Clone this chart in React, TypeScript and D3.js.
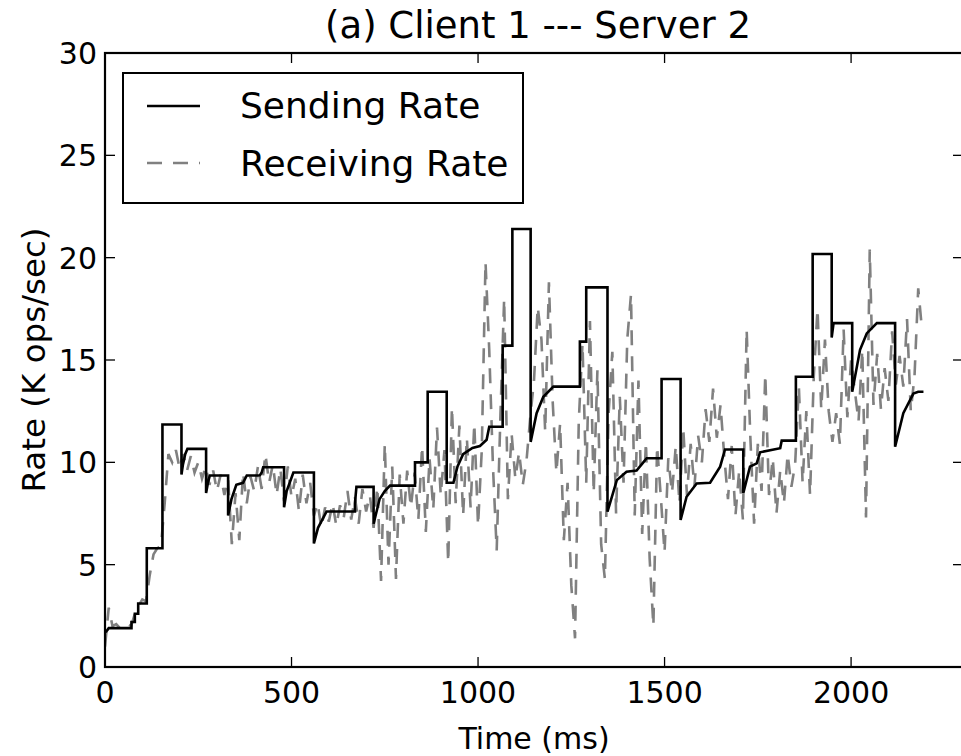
import React from "react";
import * as d3 from "d3";

// Sending rate (step-like with recovery curves): time (ms) and rate (K ops/sec)
const SEND_T = [2, 10, 71, 71, 80, 80, 89, 89, 112, 112, 154, 154, 205, 205, 209, 215, 221, 271, 271, 276, 281, 330, 330, 339, 352, 370, 380, 415, 420, 424, 480, 480, 487, 505, 560, 560, 571, 594, 670, 670, 674, 720, 720, 736, 750, 764, 831, 831, 865, 865, 916, 916, 934, 945, 960, 985, 1005, 1023, 1030, 1066, 1066, 1092, 1092, 1141, 1141, 1157, 1175, 1202, 1273, 1273, 1290, 1290, 1347, 1347, 1372, 1398, 1425, 1443, 1452, 1492, 1492, 1543, 1543, 1559, 1586, 1622, 1649, 1662, 1711, 1711, 1729, 1747, 1756, 1810, 1814, 1852, 1852, 1897, 1897, 1948, 1948, 1953, 2003, 2003, 2024, 2042, 2069, 2118, 2118, 2140, 2167, 2180, 2194];
const SEND_V = [1.7, 1.9, 1.9, 2.2, 2.2, 2.6, 2.6, 3.1, 3.1, 5.8, 5.8, 11.85, 11.85, 9.4, 9.9, 10.4, 10.66, 10.66, 8.5, 9.0, 9.36, 9.36, 7.4, 8.2, 8.9, 9.0, 9.36, 9.36, 9.5, 9.76, 9.76, 7.8, 8.6, 9.5, 9.5, 6.04, 6.8, 7.6, 7.6, 8.0, 8.8, 8.8, 7.0, 8.2, 8.6, 8.86, 8.86, 10.0, 10.0, 13.45, 13.45, 9.0, 9.0, 9.8, 10.4, 10.7, 10.8, 11.1, 11.74, 11.74, 15.7, 15.7, 21.4, 21.4, 11.0, 12.4, 13.2, 13.7, 13.7, 15.9, 15.9, 18.55, 18.55, 7.59, 9.13, 9.54, 9.6, 10.0, 10.2, 10.2, 14.07, 14.07, 7.18, 8.32, 8.97, 9.0, 9.79, 10.63, 10.63, 8.49, 9.79, 9.95, 10.49, 10.69, 11.06, 11.06, 14.18, 14.18, 20.18, 20.18, 16.1, 16.8, 16.8, 13.45, 15.5, 16.3, 16.8, 16.8, 10.76, 12.4, 13.36, 13.45, 13.45];

// Receiving rate sampled every 10 ms starting at 0 ms
const RECV_STEP = 10;
const RECV_V = [
  1.0, 2.9, 2.0, 2.1, 1.9, 2.0, 2.1, 2.0, 2.6, 3.0,
  3.3, 3.2, 4.5, 5.5, 5.8, 5.9, 8.0, 10.4, 10.0, 10.6,
  9.7, 10.4, 9.6, 10.3, 9.5, 10.0, 9.2, 9.8, 8.9, 9.6,
  8.6, 9.4, 8.4, 9.2, 6.0, 8.5, 6.2, 9.5, 8.0, 9.3,
  8.6, 9.8, 8.7, 10.4, 9.0, 9.9, 8.4, 9.7, 8.1, 9.8,
  8.3, 9.2, 7.6, 9.4, 8.0, 9.0, 7.4, 8.0, 6.8, 7.8,
  7.1, 8.0, 6.9, 7.9, 7.3, 8.6, 7.2, 8.3, 7.0, 8.7,
  7.6, 8.4, 6.8, 8.8, 4.2, 10.9, 5.0, 9.8, 4.3, 9.4,
  7.0, 9.6, 7.8, 9.5, 7.2, 10.8, 6.6, 10.2, 7.7, 11.7,
  8.4, 10.6, 5.1, 12.7, 8.0, 11.8, 7.4, 11.2, 7.8, 11.9,
  6.9, 10.6, 19.8, 15.5, 9.8, 5.7, 12.3, 18.0, 8.2, 11.4,
  9.2, 10.5, 8.9, 10.1, 12.2, 14.0, 17.6, 16.0, 11.5, 18.8,
  13.0, 9.5, 11.9, 6.2, 9.0, 4.0, 1.4, 12.0, 15.8, 9.0,
  16.9, 8.5, 14.5, 6.0, 4.3, 12.4, 15.4, 7.5, 13.2, 9.0,
  16.0, 18.2, 7.4, 14.0, 6.5, 11.0, 5.3, 2.0, 10.8, 8.3,
  5.6, 10.2, 8.5, 10.8, 8.0, 11.7, 8.4, 10.9, 8.8, 11.3,
  10.0, 12.6, 11.0, 13.6, 11.2, 12.8, 10.3, 8.2, 10.8, 7.4,
  9.6, 7.2, 16.5, 11.2, 7.0, 10.9, 8.6, 14.3, 8.4, 10.2,
  7.5, 9.6, 8.0, 10.4, 8.8, 9.9, 13.7, 9.0, 12.5, 8.4,
  14.2, 17.5, 12.6, 16.0, 12.5, 11.0, 12.4, 10.9, 16.5, 12.2,
  15.0, 13.5, 12.0, 15.5, 7.3, 20.4, 12.8, 15.3, 12.6, 14.6,
  13.0, 16.4, 13.8, 15.2, 13.7, 17.0, 12.5, 14.2, 18.5, 16.5,
];

const X_TICKS = [0, 500, 1000, 1500, 2000];
const Y_TICKS = [0, 5, 10, 15, 20, 25, 30];
const TITLE = "(a) Client 1 --- Server 2";
const X_LABEL = "Time (ms)";
const Y_LABEL = "Rate (K ops/sec)";
const LEGEND = ["Sending Rate", "Receiving Rate"];

const W = 961;
const H = 756;
const L = 105, R = 963, T = 53, B = 667;
const FONT = "DejaVu Sans, sans-serif";

export default function App() {
  const x = d3.scaleLinear().domain([0, 2300]).range([L, R]);
  const y = d3.scaleLinear().domain([0, 30]).range([B, T]);

  const sendData = SEND_T.map((t, i) => [t, SEND_V[i]] as [number, number]);
  const recvData = RECV_V.map((v, i) => [i * RECV_STEP, v] as [number, number]);

  const line = d3
    .line<[number, number]>()
    .x((d) => x(d[0]))
    .y((d) => y(d[1]));

  const tickLen = 10;

  return (
    <svg
      width={W}
      height={H}
      style={{ position: "absolute", left: 0, top: 0, background: "#fff" }}
      fontFamily={FONT}
    >
      <defs>
        <clipPath id="plot">
          <rect x={L} y={T} width={R - L} height={B - T} />
        </clipPath>
      </defs>
      <rect x={0} y={0} width={W} height={H} fill="#fff" />

      <g clipPath="url(#plot)" fill="none">
        <path
          d={line(recvData) || ""}
          stroke="#808080"
          strokeWidth={2.6}
          strokeDasharray="15,11"
        />
        <path d={line(sendData) || ""} stroke="#000" strokeWidth={2.6} strokeLinejoin="miter" />
      </g>

      {/* ticks */}
      <g stroke="#000" strokeWidth={1.3}>
        {X_TICKS.map((t) => (
          <g key={"xt" + t}>
            <line x1={x(t)} x2={x(t)} y1={B} y2={B - tickLen} />
            <line x1={x(t)} x2={x(t)} y1={T} y2={T + tickLen} />
          </g>
        ))}
        {Y_TICKS.map((v) => (
          <g key={"yt" + v}>
            <line x1={L} x2={L + tickLen} y1={y(v)} y2={y(v)} />
            <line x1={R} x2={R - tickLen} y1={y(v)} y2={y(v)} />
          </g>
        ))}
      </g>

      {/* spines */}
      <rect x={L} y={T} width={R - L} height={B - T} fill="none" stroke="#000" strokeWidth={2.2} />

      {/* tick labels */}
      <g fontSize={30} fill="#000">
        {X_TICKS.map((t) => (
          <text key={"xl" + t} x={x(t)} y={703} textAnchor="middle">
            {t}
          </text>
        ))}
        {Y_TICKS.map((v) => (
          <text key={"yl" + v} x={97} y={y(v) + 11} textAnchor="end">
            {v}
          </text>
        ))}
      </g>

      {/* axis labels & title */}
      <text x={(L + R) / 2} y={749} textAnchor="middle" fontSize={30}>
        {X_LABEL}
      </text>
      <text
        transform={`translate(45, ${(T + B) / 2}) rotate(-90)`}
        textAnchor="middle"
        fontSize={32.5}
      >
        {Y_LABEL}
      </text>
      <text x={(L + R) / 2 + 4} y={38} textAnchor="middle" fontSize={37}>
        {TITLE}
      </text>

      {/* legend */}
      <g>
        <rect x={123} y={73} width={400} height={130} fill="#fff" stroke="#000" strokeWidth={2} />
        <line x1={147} x2={200} y1={106} y2={106} stroke="#000" strokeWidth={2.6} />
        <line x1={147} x2={200} y1={163} y2={163} stroke="#808080" strokeWidth={2.6} strokeDasharray="15,11" />
        <text x={240} y={118} fontSize={36}>
          {LEGEND[0]}
        </text>
        <text x={240} y={176} fontSize={36}>
          {LEGEND[1]}
        </text>
      </g>
    </svg>
  );
}
